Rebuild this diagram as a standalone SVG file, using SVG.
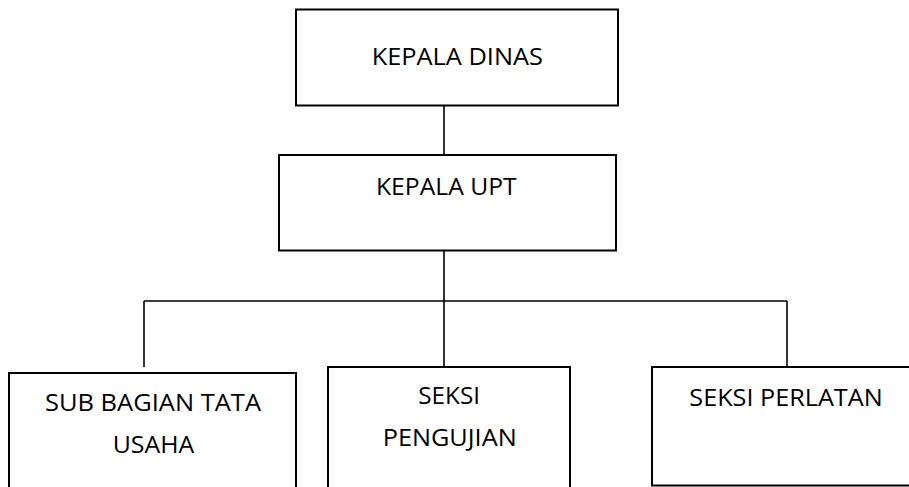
<svg xmlns="http://www.w3.org/2000/svg" width="909" height="487" viewBox="0 0 909 487">
<style>
.box{fill:#fff;stroke:#000;stroke-width:2}
.ln{stroke:#000;stroke-width:1.6;fill:none}
text{font-family:"Open Sans","Liberation Sans",sans-serif;font-size:24.5px;fill:#000}
</style>
<rect width="909" height="487" fill="#fff"/>
<g id="connectors">
<line class="ln" x1="444" y1="106" x2="444" y2="155"/>
<line class="ln" x1="444" y1="251" x2="444" y2="367"/>
<line class="ln" x1="144" y1="301" x2="787" y2="301"/>
<line class="ln" x1="144" y1="301" x2="144" y2="367"/>
<line class="ln" x1="787" y1="301" x2="787" y2="367"/>
</g>
<g id="kepala-dinas">
<rect class="box" x="296" y="9.5" width="322" height="96"/>
<text x="371.7" y="65" textLength="171.3" lengthAdjust="spacingAndGlyphs">KEPALA DINAS</text>
</g>
<g id="kepala-upt">
<rect class="box" x="279" y="155" width="337" height="95.5"/>
<text x="376" y="195" textLength="140.7" lengthAdjust="spacingAndGlyphs">KEPALA UPT</text>
</g>
<g id="sub-bagian-tata-usaha">
<rect class="box" x="9" y="373" width="287" height="130"/>
<text x="45" y="411" textLength="216" lengthAdjust="spacingAndGlyphs">SUB BAGIAN TATA</text>
<text x="112.7" y="453.3" textLength="81.6" lengthAdjust="spacingAndGlyphs">USAHA</text>
</g>
<g id="seksi-pengujian">
<rect class="box" x="328" y="367" width="242" height="140"/>
<text x="418.3" y="404.3" textLength="61.7" lengthAdjust="spacingAndGlyphs">SEKSI</text>
<text x="382.7" y="446" textLength="134" lengthAdjust="spacingAndGlyphs">PENGUJIAN</text>
</g>
<g id="seksi-perlatan">
<rect class="box" x="652" y="367" width="270" height="118.5"/>
<text x="689.3" y="405.7" textLength="193.4" lengthAdjust="spacingAndGlyphs">SEKSI PERLATAN</text>
</g>
</svg>
